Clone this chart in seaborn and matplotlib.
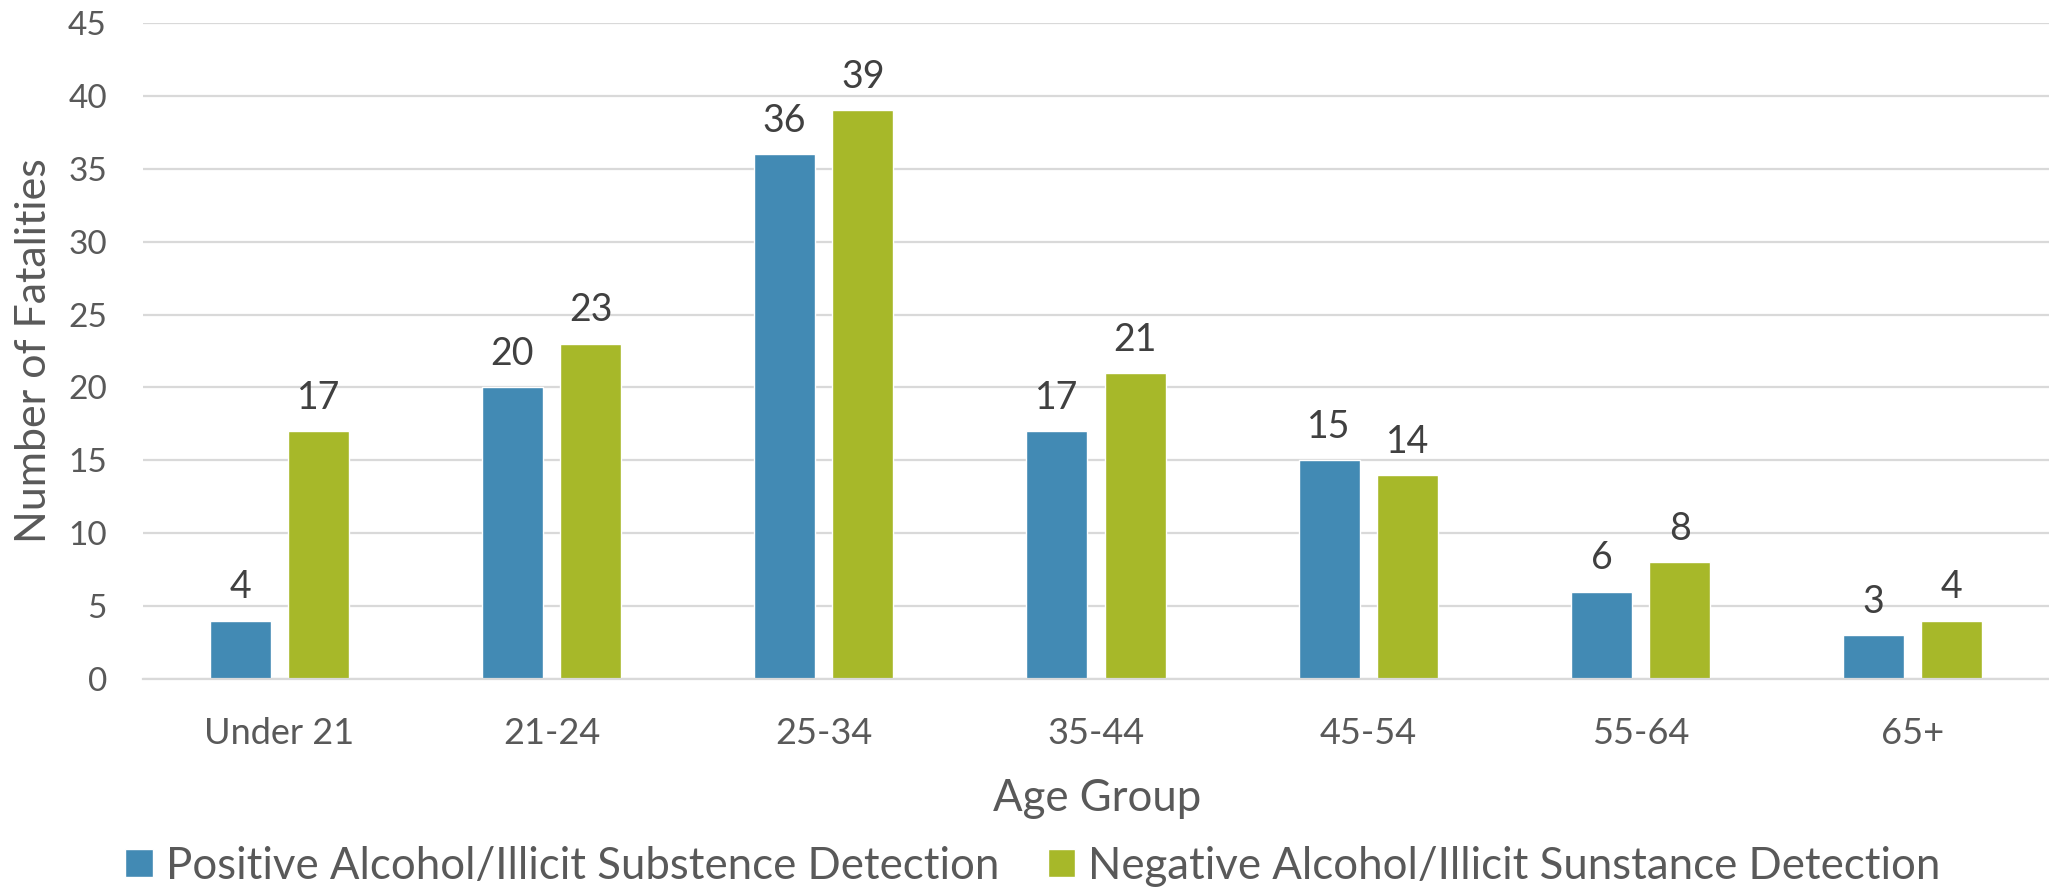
import matplotlib
matplotlib.use("Agg")
import matplotlib.pyplot as plt
import pandas as pd
import seaborn as sns

# Fatalities by age group, split by toxicology result
age_groups = ["Under 21", "21-24", "25-34", "35-44", "45-54", "55-64", "65+"]
positive = [4, 20, 36, 17, 15, 6, 3]
negative = [17, 23, 39, 21, 14, 8, 4]
series_names = [
    "Positive Alcohol/Illicit Substence Detection",
    "Negative Alcohol/Illicit Sunstance Detection",
]
y_ticks = [0, 5, 10, 15, 20, 25, 30, 35, 40, 45]

df = pd.DataFrame({
    "Age Group": age_groups * 2,
    "Fatalities": positive + negative,
    "Result": [series_names[0]] * len(age_groups) + [series_names[1]] * len(age_groups),
})

sns.set_theme(style="white")
plt.rcParams["font.family"] = ["Lato", "DejaVu Sans"]

TEXT = "#595959"
LABEL = "#404040"
GRID = "#D9D9D9"
palette = {series_names[0]: "#428AB4", series_names[1]: "#A7B829"}

fig = plt.figure(figsize=(20.49, 8.88), dpi=100)
ax = fig.add_axes([143 / 2049, 1 - 679 / 888, 1906 / 2049, 656 / 888])

sns.barplot(
    data=df, x="Age Group", y="Fatalities", hue="Result",
    order=age_groups, hue_order=series_names, palette=palette,
    width=0.574, gap=0.218, saturation=1, ax=ax, legend=True,
)

for cont in ax.containers:
    ax.bar_label(cont, fmt="%d", padding=11, fontsize=27, color=LABEL)

ax.set_ylim(0, 45)
ax.set_xlim(-0.5, len(age_groups) - 0.5)
ax.set_yticks(y_ticks)
ax.yaxis.grid(True, color=GRID, linewidth=1.6)
ax.set_axisbelow(True)
for side in ["top", "right", "left"]:
    ax.spines[side].set_visible(False)
ax.spines["bottom"].set_color(GRID)
ax.spines["bottom"].set_linewidth(1.6)

ax.tick_params(axis="x", length=0, pad=27, labelsize=26, labelcolor=TEXT)
ax.tick_params(axis="y", length=0, pad=26, labelsize=24, labelcolor=TEXT)

ax.set_xlabel("Age Group", fontsize=31.5, color=TEXT)
ax.xaxis.set_label_coords((1097 - 143) / 1906, (679 - 798) / 656)
ax.xaxis.label.set_va("center")
ax.set_ylabel("Number of Fatalities", fontsize=31, color=TEXT, va="center")
ax.yaxis.set_label_coords((34 - 143) / 1906, 0.5)

ax.legend(
    loc="center", bbox_to_anchor=(1033 / 2049, 1 - 866 / 888),
    bbox_transform=fig.transFigure, ncol=2, frameon=False,
    fontsize=31.5, labelcolor=TEXT, handlelength=0.62, handleheight=0.62,
    handletextpad=0.3, columnspacing=1.12, borderaxespad=0, borderpad=0,
)

fig.savefig("out.png", dpi=100)
